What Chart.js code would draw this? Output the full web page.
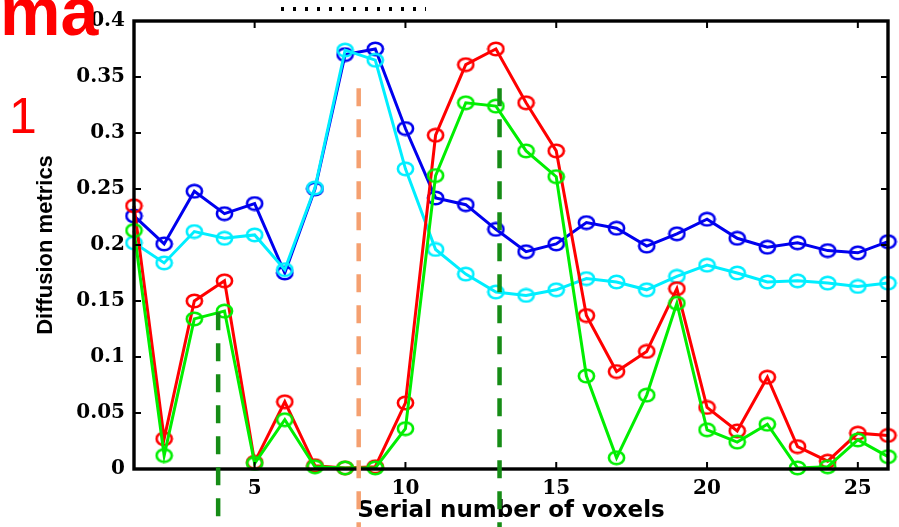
<!DOCTYPE html>
<html>
<head>
<meta charset="utf-8">
<script src="https://cdn.jsdelivr.net/npm/chart.js@4/dist/chart.umd.min.js"></script>
<style>
  body{margin:0;background:#fff}
  canvas{display:block}
</style>
</head>
<body>
<canvas id="chart" width="899" height="527"></canvas>
<script>

const voxels = [1,2,3,4,5,6,7,8,9,10,11,12,13,14,15,16,17,18,19,20,21,22,23,24,25,26]

const blueVals = [0.226,0.201,0.248,0.228,0.237,0.175,0.250,0.370,0.375,0.304,0.242,0.236,0.214,0.194,0.201,0.220,0.215,0.199,0.210,0.223,0.206,0.198,0.202,0.195,0.193,0.203]
const cyanVals = [0.202,0.184,0.212,0.206,0.209,0.178,0.251,0.374,0.365,0.268,0.196,0.174,0.158,0.155,0.160,0.170,0.167,0.160,0.172,0.182,0.175,0.167,0.168,0.166,0.163,0.166]
const redVals = [0.235,0.027,0.150,0.168,0.006,0.060,0.003,0.001,0.002,0.059,0.298,0.361,0.375,0.327,0.284,0.137,0.087,0.105,0.161,0.055,0.034,0.082,0.020,0.007,0.032,0.030]
const greenVals = [0.213,0.012,0.134,0.141,0.005,0.044,0.002,0.001,0.001,0.036,0.262,0.327,0.324,0.284,0.261,0.083,0.010,0.066,0.148,0.035,0.024,0.040,0.001,0.002,0.026,0.011]

const xTickVals = [5,10,15,20,25]

// dashed markers: x position, top value, colour
const markX = [3.79, 8.45, 13.12]
const markTop = [0.14, 0.34, 0.34]
const markColor = ["#168c16", "#f5a070", "#168c16"]

const pts = vals => vals.map((v,i) => ({x: voxels[i], y: v}))

// hollow, slightly wide circle marker
function ring(color){
    const c = document.createElement("canvas")
    c.width = 19
    c.height = 16
    const g = c.getContext("2d")
    g.strokeStyle = color
    g.lineWidth = 2.6
    g.beginPath()
    g.ellipse(9.5, 8, 7.6, 6.2, 0, 0, Math.PI * 2)
    g.stroke()
    return c
}

function series(vals, color){
    return {
        data: pts(vals),
        borderColor: color,
        pointStyle: ring(color),
        borderWidth: 3,
        pointRadius: 8,
        tension: 0,
        clip: false
    }
}

const framePlugin = {
    id: "frame",
    afterDatasetsDraw(chart){
        const ctx = chart.ctx
        const a = chart.chartArea
        const xs = chart.scales.x
        const ys = chart.scales.y
        ctx.save()
        ctx.strokeStyle = "#000"
        ctx.lineWidth = 3.4
        ctx.setLineDash([])
        ctx.strokeRect(a.left, a.top, a.right - a.left, a.bottom - a.top)
        ctx.lineWidth = 2
        ctx.beginPath()
        ys.ticks.forEach(t => {
            const y = ys.getPixelForValue(t.value)
            ctx.moveTo(a.left, y); ctx.lineTo(a.left + 7, y)
            ctx.moveTo(a.right, y); ctx.lineTo(a.right - 7, y)
        })
        xs.ticks.forEach(t => {
            const x = xs.getPixelForValue(t.value)
            ctx.moveTo(x, a.bottom); ctx.lineTo(x, a.bottom - 7)
            ctx.moveTo(x, a.top); ctx.lineTo(x, a.top + 7)
        })
        ctx.stroke()

        // dashed vertical markers, running past the axis
        ctx.lineWidth = 4.5
        ctx.setLineDash([18, 13])
        markX.forEach((mx, i) => {
            const x = xs.getPixelForValue(mx)
            ctx.strokeStyle = markColor[i]
            ctx.beginPath()
            ctx.moveTo(x, ys.getPixelForValue(markTop[i]))
            ctx.lineTo(x, chart.height)
            ctx.stroke()
        })

        // cut-off marks along the top edge
        ctx.strokeStyle = "#000"
        ctx.lineWidth = 4
        ctx.setLineDash([3, 9])
        ctx.beginPath()
        ctx.moveTo(281, 9); ctx.lineTo(426, 9)
        ctx.stroke()
        ctx.restore()
    },
    afterDraw(chart){
        const ctx = chart.ctx
        ctx.save()
        ctx.fillStyle = "#ff0000"
        ctx.textBaseline = "alphabetic"
        ctx.textAlign = "left"
        ctx.font = "bold 68px 'Liberation Sans', Arial, sans-serif"
        ctx.fillText("ma", 0, 35)
        ctx.font = "50px 'Liberation Sans', Arial, sans-serif"
        ctx.fillText("1", 9, 133)
        ctx.restore()
    }
}

new Chart(document.getElementById("chart"), {
    type: "line",
    data: {
        datasets: [
            series(greenVals, "#00ee00"),
            series(redVals, "#ff0000"),
            series(cyanVals, "#00eeff"),
            series(blueVals, "#0000ee")
        ]
    },
    options: {
        responsive: false,
        animation: false,
        devicePixelRatio: 1,
        layout: {padding: {top: 12, right: 10, bottom: 0, left: 0}},
        plugins: {legend: {display: false}, tooltip: {enabled: false}},
        scales: {
            x: {
                type: "linear",
                min: 1,
                max: 26,
                grid: {display: false, drawTicks: false},
                border: {display: false},
                afterBuildTicks: s => { s.ticks = xTickVals.map(v => ({value: v})) },
                afterFit: s => { s.height = 58 },
                ticks: {
                    padding: 8,
                    maxRotation: 0,
                    color: "#000",
                    font: {family: "'DejaVu Serif', serif", weight: "bold", size: 20}
                },
                title: {
                    display: true,
                    text: "Serial number of voxels",
                    color: "#000",
                    padding: {top: 0, bottom: 2},
                    font: {family: "'DejaVu Sans', sans-serif", weight: "bold", size: 23}
                }
            },
            y: {
                min: 0,
                max: 0.4,
                grid: {display: false, drawTicks: false},
                border: {display: false},
                afterFit: s => { s.width = 134 },
                ticks: {
                    stepSize: 0.05,
                    padding: 9,
                    color: "#000",
                    callback: v => String(+v.toFixed(2)),
                    font: {family: "'DejaVu Serif', serif", weight: "bold", size: 20}
                },
                title: {
                    display: true,
                    text: "Diffusion metrics",
                    color: "#000",
                    padding: {top: 33, bottom: 0},
                    font: {family: "'Liberation Sans', Arial, sans-serif", weight: "bold", size: 22}
                }
            }
        }
    },
    plugins: [framePlugin]
})

</script>
</body>
</html>
